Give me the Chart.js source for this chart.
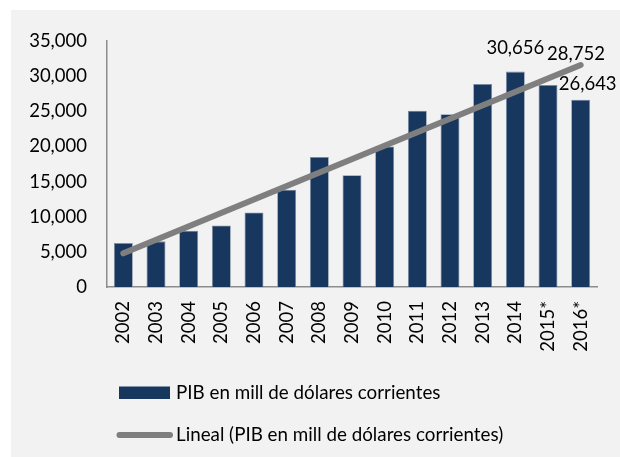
<!DOCTYPE html>
<html>
<head>
<meta charset="utf-8">
<script src="https://cdn.jsdelivr.net/npm/chart.js@4"></script>
<style>
  html, body { margin: 0; padding: 0; background: #ffffff; }
  #wrap { position: absolute; left: 11px; top: 10px; width: 609px; height: 447px; background: #f2f2f2; }
</style>
</head>
<body>
<div id="wrap"><canvas id="pib"></canvas></div>
<script>
// datos
var anios = ["2002", "2003", "2004", "2005", "2006", "2007", "2008", "2009", "2010", "2011", "2012", "2013", "2014", "2015*", "2016*"];
var pib = [6250, 6500, 8000, 8750, 10600, 13850, 18500, 15900, 20000, 25100, 24600, 28900, 30656, 28752, 26643];
// tendencia lineal: solo extremos
var lineal = [4800, null, null, null, null, null, null, null, null, null, null, null, null, null, 31600];
var ticksY = [0, 5000, 10000, 15000, 20000, 25000, 30000, 35000];
var conEtiqueta = ["2014", "2015*", "2016*"];

var fuente = "Lato, 'Open Sans', sans-serif";
var colorBarra = '#17375e';
var colorLinea = '#7f7f7f';

function fmt(v){
    return v.toLocaleString('en-US');
}

// etiquetas de valor (desplazadas como en el original)
var etiquetas = {
    id: 'etiquetas',
    afterDatasetsDraw: function(chart){
        var ctx = chart.ctx;
        var meta = chart.getDatasetMeta(0);
        var desp = { "2014": [0, -24], "2015*": [28, -31], "2016*": [7, -16] };
        ctx.save();
        ctx.font = "18.5px " + fuente;
        ctx.fillStyle = '#000000';
        ctx.textAlign = 'center';
        ctx.textBaseline = 'middle';
        for (var i = 0; i < anios.length; i++) {
            if (conEtiqueta.indexOf(anios[i]) < 0) continue;
            var el = meta.data[i];
            var d = desp[anios[i]];
            ctx.fillText(fmt(pib[i]), el.x + d[0], el.y + d[1]);
        }
        ctx.restore();
    }
};

// leyenda vertical abajo a la izquierda
var leyenda = {
    id: 'leyenda',
    afterDraw: function(chart){
        var ctx = chart.ctx;
        var ds = chart.data.datasets;
        ctx.save();
        ctx.font = "18.8px " + fuente;
        ctx.textBaseline = 'middle';
        ctx.textAlign = 'left';

        ctx.fillStyle = colorBarra;
        ctx.fillRect(108, 376.5, 51, 12.5);
        ctx.fillStyle = '#000000';
        ctx.fillText(ds[0].label, 165, 383);

        ctx.strokeStyle = colorLinea;
        ctx.lineWidth = 6;
        ctx.lineCap = 'round';
        ctx.beginPath();
        ctx.moveTo(108.5, 425);
        ctx.lineTo(159, 425);
        ctx.stroke();
        ctx.fillText(ds[1].label, 165, 425);
        ctx.restore();
    }
};

var chartPib = new Chart(document.getElementById('pib'), {
    type: 'bar',
    data: {
        labels: anios,
        datasets: [
            {
                label: "PIB en mill de dólares corrientes",
                data: pib,
                backgroundColor: colorBarra,
                borderColor: '#7d8ea6',
                borderWidth: 0.8,
                barPercentage: 0.58,
                categoryPercentage: 1,
                order: 2
            },
            {
                type: 'line',
                label: "Lineal (PIB en mill de dólares corrientes)",
                data: lineal,
                spanGaps: true,
                borderColor: colorLinea,
                borderWidth: 6,
                borderCapStyle: 'round',
                pointRadius: 0,
                fill: false,
                order: 1
            }
        ]
    },
    options: {
        responsive: true,
        maintainAspectRatio: false,
        animation: false,
        layout: { padding: { top: 28, right: 23, bottom: 100, left: 0 } },
        plugins: {
            legend: { display: false },
            tooltip: { enabled: false }
        },
        scales: {
            x: {
                grid: { display: false, drawTicks: false },
                border: { display: true, color: '#8c8c8c', width: 1.5 },
                ticks: {
                    color: '#000000',
                    font: { family: fuente, size: 18.5 },
                    minRotation: 90,
                    maxRotation: 90,
                    padding: 14,
                    autoSkip: false
                },
                afterFit: function(scale){ scale.height = 70; }
            },
            y: {
                min: 0,
                max: 35000,
                afterBuildTicks: function(scale){
                    scale.ticks = ticksY.map(function(v){ return { value: v }; });
                },
                grid: { display: false, drawTicks: false },
                border: { display: true, color: '#8c8c8c', width: 1.5 },
                ticks: {
                    color: '#000000',
                    font: { family: fuente, size: 18.5 },
                    padding: 20,
                    callback: function(v){ return fmt(v); }
                },
                afterFit: function(scale){ scale.width = 96; }
            }
        }
    },
    plugins: [etiquetas, leyenda]
});
</script>
</body>
</html>
